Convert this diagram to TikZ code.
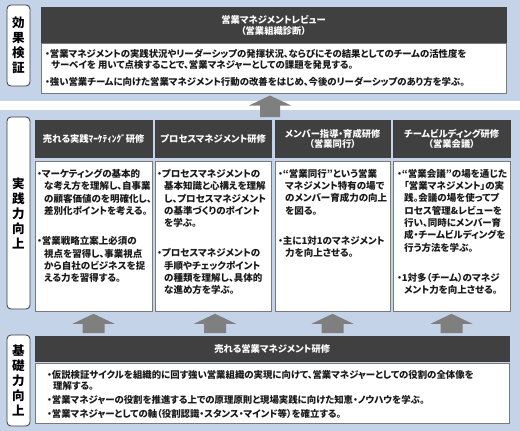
\documentclass[tikz,border=0pt]{standalone}
\usepackage{fontspec}
\setmainfont{Noto Sans CJK JP}[RawFeature=+palt]
\usetikzlibrary{calc}
\definecolor{bandblue}{HTML}{C5D3E9}
\definecolor{hdrdark}{HTML}{404040}
\definecolor{lbldark}{HTML}{3A3A3A}
\definecolor{arrgray}{HTML}{7F7F7F}
\definecolor{boxline}{HTML}{7A7A7A}
\definecolor{txtdark}{HTML}{1A1A1A}
\newcommand\ind{\hspace*{7pt}}
\newcommand\indb{\hspace*{6pt}}
% block arrow: x, upper node, lower node, half shaft width
\newcommand\blkarrow[4]{%
  \path (#1,0) coordinate (ax) (ax |- #2.south) ++(0,2) coordinate (atip)
        (ax |- #3.north) ++(0,-3) coordinate (abot);
  \fill[arrgray] let \p1=(atip), \p2=(abot) in
    (\x1,\y1) -- (\x1+21pt,\y1-10pt) -- (\x1+#4pt,\y1-10pt) -- (\x1+#4pt,\y2)
    -- (\x1-#4pt,\y2) -- (\x1-#4pt,\y1-10pt) -- (\x1-21pt,\y1-10pt) -- cycle;}
\begin{document}
\begin{tikzpicture}[x=1pt,y=-1pt,
  band/.style={fill=bandblue},
  lbl/.style={draw=lbldark, line width=0.8pt, fill=white, rounded corners=4pt,
    minimum width=23pt, inner sep=0pt, align=center,
    font=\fontsize{12.5}{15}\selectfont\bfseries},
  hdr/.style={fill=hdrdark, draw=hdrdark, text=white, inner sep=0pt, align=center,
    font=\fontsize{9.3}{10.5}\selectfont\bfseries, anchor=north west},
  cbox/.style={fill=white, draw=boxline, line width=0.8pt, inner sep=0pt, anchor=north west},
  btext/.style={inner sep=0pt, align=left, anchor=north west, text=txtdark,
    font=\fontsize{9.5}{12.3}\selectfont\bfseries},
  wtext/.style={btext, font=\fontsize{9.4}{11}\selectfont\bfseries}]
\useasboundingbox (0,0) rectangle (520,431);
% background bands
\fill[band] (0,0) rectangle (520,101);
\fill[band] (0,110) rectangle (520,431);
% labels
\node[lbl, minimum height=81pt] (lblA) at (18.5,45.5) {効\\果\\検\\証};
\node[lbl, minimum height=192pt] (lblB) at (18.5,213) {実\\践\\力\\向\\上};
\node[lbl, minimum height=91pt] (lblC) at (18.5,380.5) {基\\礎\\力\\向\\上};
% top section
\node[hdr, minimum width=465.3pt, minimum height=36pt] (topH) at (40.7,7)
  {営業マネジメントレビュー\\（営業組織診断）};
\node[cbox, minimum width=465.3pt, minimum height=49.7pt] (topC) at (40.7,43) {};
\node[wtext] (topT) at (45,49)
  {・営業マネジメントの実践状況やリーダーシップの発揮状況、ならびにその結果としてのチームの活性度を\\
   \indb サーベイを 用いて点検することで、営業マネジャーとしての課題を発見する。\\[6pt]
   ・強い営業チームに向けた営業マネジメント行動の改善をはじめ、今後のリーダーシップのあり方を学ぶ。};
% middle section: headers
\node[hdr, minimum width=117pt, minimum height=37pt] (c1H) at (35,120) {売れる実践ﾏｰｹﾃｨﾝｸﾞ研修};
\node[hdr, minimum width=116pt, minimum height=37pt] (c2H) at (155,120) {プロセスマネジメント研修};
\node[hdr, minimum width=115pt, minimum height=37pt] (c3H) at (275,120) {メンバー指導・育成研修\\（営業同行）};
\node[hdr, minimum width=117pt, minimum height=37pt] (c4H) at (393,120) {チームビルディング研修\\（営業会議）};
% middle section: content boxes
\node[cbox, minimum width=117pt, minimum height=150.5pt] (c1C) at (35,160.5) {};
\node[cbox, minimum width=116pt, minimum height=150.5pt] (c2C) at (155,160.5) {};
\node[cbox, minimum width=115pt, minimum height=150.5pt] (c3C) at (275,160.5) {};
\node[cbox, minimum width=117pt, minimum height=150.5pt] (c4C) at (393,160.5) {};
\node[btext] (c1T) at (37,169)
  {・マーケティングの基本的\\\ind な考え方を理解し、自事業\\\ind の顧客価値のを明確化し、\\\ind 差別化ポイントを考える。\\[18pt]
   ・営業戦略立案上必須の\\\ind 視点を習得し、事業視点\\\ind から自社のビジネスを捉\\\ind える力を習得する。};
\node[btext] (c2T) at (157,169)
  {・プロセスマネジメントの\\\ind 基本知識と心構えを理解\\\ind し、プロセスマネジメント\\\ind の基準づくりのポイント\\\ind を学ぶ。\\[18pt]
   ・プロセスマネジメントの\\\ind 手順やチェックポイント\\\ind の種類を理解し、具体的\\\ind な進め方を学ぶ。};
\node[btext] (c3T) at (278,169)
  {・“営業同行”という営業\\\ind マネジメント特有の場で\\\ind のメンバー育成力の向上\\\ind を図る。\\[18pt]
   ・主に1対1のマネジメント\\\ind 力を向上させる。};
\node[btext] (c4T) at (397,169)
  {・“営業会議”の場を通じた\\\ind 「営業マネジメント」の実\\\ind 践。会議の場を使ってプ\\\ind ロセス管理\&レビューを\\\ind 行い、同時にメンバー育\\\ind 成・チームビルディングを\\\ind 行う方法を学ぶ。\\[18pt]
   ・1対多（チーム）のマネジ\\\ind メント力を向上させる。};
% bottom section
\node[hdr, minimum width=474pt, minimum height=25pt] (botH) at (35,336) {売れる営業マネジメント研修};
\node[cbox, minimum width=474pt, minimum height=60pt] (botC) at (35,363) {};
\node[wtext] (botT) at (47,370)
  {・仮説検証サイクルを組織的に回す強い営業組織の実現に向けて、営業マネジャーとしての役割の全体像を\\
   \indb 理解する。\\[3pt]
   ・営業マネジャーの役割を推進する上での原理原則と現場実践に向けた知恵・ノウハウを学ぶ。\\[3pt]
   ・営業マネジャーとしての軸（役割認識・スタンス・マインド等）を確立する。};
% arrows
\blkarrow{270}{topC}{c2H}{10}
\blkarrow{93.5}{c1C}{botH}{11}
\blkarrow{215}{c2C}{botH}{11}
\blkarrow{332.5}{c3C}{botH}{11}
\blkarrow{451.5}{c4C}{botH}{11}
\end{tikzpicture}
\end{document}
